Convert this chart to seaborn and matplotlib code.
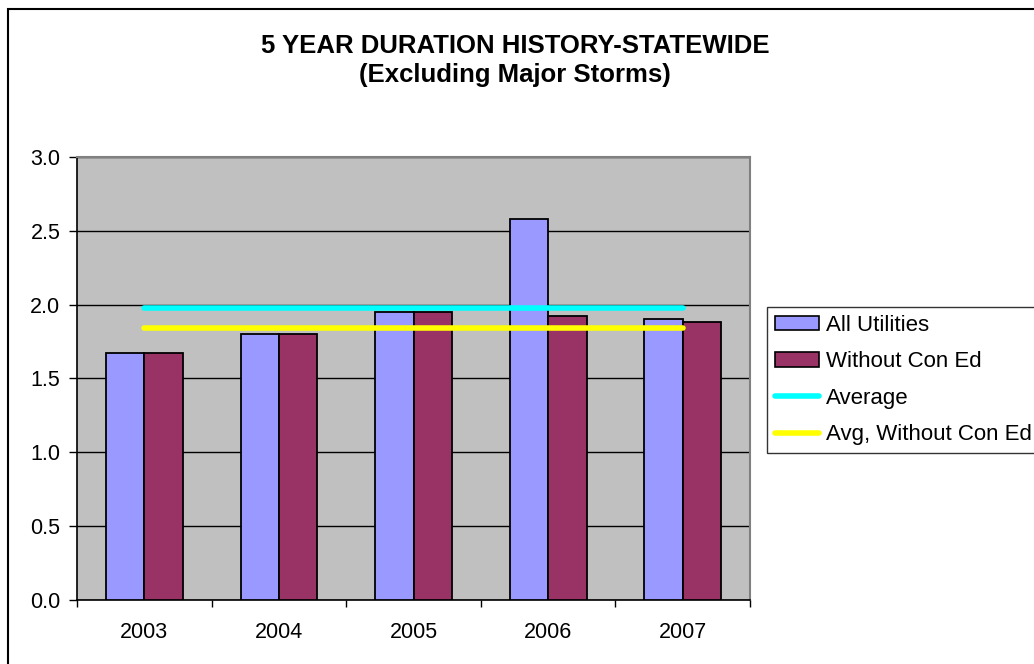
import numpy as np
import pandas as pd
import seaborn as sns
import matplotlib.pyplot as plt
from matplotlib.patches import Rectangle
from matplotlib.lines import Line2D

# chart values
years = ['2003', '2004', '2005', '2006', '2007']
all_utilities = [1.67, 1.80, 1.95, 2.58, 1.90]
without_con_ed = [1.67, 1.80, 1.95, 1.92, 1.88]
series_names = ['All Utilities', 'Without Con Ed']
line_names = ['Average', 'Avg, Without Con Ed']
y_ticks = [0.0, 0.5, 1.0, 1.5, 2.0, 2.5, 3.0]

sns.set_style('white')
plt.rcParams['font.family'] = ['Liberation Sans', 'DejaVu Sans']
plt.rcParams['text.color'] = 'black'
plt.rcParams['xtick.color'] = 'black'
plt.rcParams['ytick.color'] = 'black'

df = pd.DataFrame({'Year': years, series_names[0]: all_utilities,
                   series_names[1]: without_con_ed})
df = df.melt(id_vars='Year', var_name='Series', value_name='Duration')

fig = plt.figure(figsize=(10.34, 6.64), dpi=100)
ax = fig.add_axes([0.0745, 0.0964, 0.6509, 0.6672])
ax.set_facecolor('#C0C0C0')

sns.barplot(data=df, x='Year', y='Duration', hue='Series', ax=ax,
            palette=['#9999FF', '#993366'], saturation=1, width=0.57, gap=0,
            edgecolor='black', linewidth=1.3, legend=False, zorder=3)

# average lines spanning the categories
xs = np.arange(len(years))
avg_all = np.mean(all_utilities)
avg_wo = np.mean(without_con_ed)
ax.plot(xs, [avg_all] * len(years), color='#00FFFF', lw=4, zorder=4,
        solid_capstyle='round')
ax.plot(xs, [avg_wo] * len(years), color='#FFFF00', lw=4, zorder=4,
        solid_capstyle='round')

ax.set_xlim(-0.5, len(years) - 0.5)
ax.set_ylim(0, 3.0)
ax.set_yticks(y_ticks)
ax.set_yticklabels([f'{t:.1f}' for t in y_ticks])
ax.yaxis.grid(True, color='black', lw=1)
ax.set_axisbelow(True)
ax.set_xlabel('')
ax.set_ylabel('')

# Excel-style ticks at category boundaries
ax.set_xticks(np.arange(-0.5, len(years)), minor=False)
ax.set_xticklabels([''] * (len(years) + 1))
ax.set_xticks(xs, minor=True)
ax.set_xticklabels(years, minor=True)
ax.tick_params(axis='x', which='major', length=5, width=1, color='black',
               direction='out', bottom=True)
ax.tick_params(axis='x', which='minor', length=0, labelsize=15.5, pad=16)
ax.tick_params(axis='y', length=6, width=1, color='black', direction='out',
               left=True, labelsize=15.5, pad=6)

for side in ['left', 'bottom']:
    ax.spines[side].set_color('black')
    ax.spines[side].set_linewidth(1.2)
for side in ['top', 'right']:
    ax.spines[side].set_color('#808080')
    ax.spines[side].set_linewidth(1.5)

fig.text(0.498, 0.9307, '5 YEAR DURATION HISTORY-STATEWIDE', ha='center',
         va='center', fontsize=18.5, fontweight='bold')
fig.text(0.498, 0.887, '(Excluding Major Storms)', ha='center',
         va='center', fontsize=18.5, fontweight='bold')

handles = [
    Rectangle((0, 0), 1, 1, facecolor='#9999FF', edgecolor='black', lw=1.2),
    Rectangle((0, 0), 1, 1, facecolor='#993366', edgecolor='black', lw=1.2),
    Line2D([], [], color='#00FFFF', lw=4),
    Line2D([], [], color='#FFFF00', lw=4),
]
leg = fig.legend(handles, series_names + line_names, loc='upper left',
                 bbox_to_anchor=(0.7418, 0.5377), fontsize=16, frameon=True,
                 fancybox=False, edgecolor='black', handlelength=2.0,
                 handleheight=0.6, handletextpad=0.3, labelspacing=0.7,
                 borderpad=0.35, borderaxespad=0)
leg.get_frame().set_linewidth(1)

# outer chart border (runs off the right and bottom edges)
fig.patches.append(Rectangle((0.0077, -0.1), 1.2, 1.0864,
                             transform=fig.transFigure, fill=False,
                             edgecolor='black', lw=1.5))

fig.savefig('out.png', dpi=100)
